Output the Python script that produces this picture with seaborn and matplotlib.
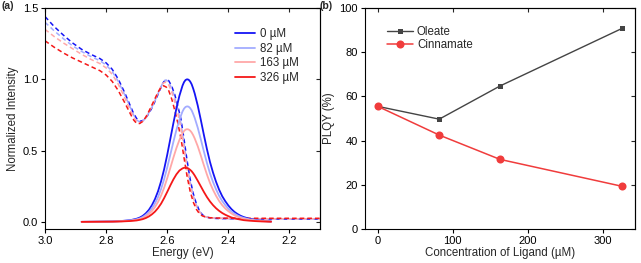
import seaborn as sns
import matplotlib.pyplot as plt
import matplotlib
matplotlib.use('Agg')

# ---- (a) PL spectra (solid lines) ----
pl_energy = [2.88, 2.82, 2.78, 2.75, 2.72, 2.70, 2.69, 2.68, 2.67, 2.66,
             2.65, 2.64, 2.63, 2.62, 2.61, 2.60, 2.59, 2.58, 2.57, 2.56,
             2.55, 2.545, 2.54, 2.535, 2.53, 2.525, 2.52, 2.515, 2.51, 2.50,
             2.49, 2.48, 2.47, 2.46, 2.45, 2.44, 2.43, 2.42, 2.41, 2.40,
             2.39, 2.38, 2.37, 2.36, 2.35, 2.33, 2.31, 2.29, 2.26]
pl_0uM = [0.0, 0.0015, 0.003, 0.006, 0.012, 0.022, 0.03, 0.042, 0.06, 0.084,
          0.117, 0.16, 0.215, 0.285, 0.37, 0.47, 0.58, 0.69, 0.795, 0.885,
          0.955, 0.98, 0.995, 1.0, 0.997, 0.985, 0.965, 0.935, 0.90, 0.815,
          0.715, 0.61, 0.51, 0.42, 0.345, 0.28, 0.225, 0.18, 0.145, 0.115,
          0.09, 0.07, 0.055, 0.043, 0.034, 0.021, 0.013, 0.007, 0.003]
pl_82uM = [0.0, 0.001, 0.0025, 0.005, 0.01, 0.018, 0.024, 0.034, 0.049, 0.068,
           0.095, 0.13, 0.174, 0.231, 0.30, 0.381, 0.47, 0.559, 0.644, 0.717,
           0.774, 0.794, 0.806, 0.81, 0.808, 0.798, 0.782, 0.757, 0.729, 0.66,
           0.579, 0.494, 0.413, 0.34, 0.279, 0.227, 0.182, 0.146, 0.117, 0.093,
           0.073, 0.057, 0.045, 0.035, 0.028, 0.017, 0.011, 0.006, 0.002]
pl_163uM = [0.0, 0.001, 0.002, 0.004, 0.008, 0.014, 0.02, 0.027, 0.039, 0.055,
            0.076, 0.104, 0.14, 0.185, 0.24, 0.306, 0.377, 0.449, 0.517, 0.575,
            0.621, 0.637, 0.647, 0.65, 0.648, 0.64, 0.627, 0.608, 0.585, 0.53,
            0.465, 0.397, 0.332, 0.273, 0.224, 0.182, 0.146, 0.117, 0.094, 0.075,
            0.059, 0.046, 0.036, 0.028, 0.022, 0.014, 0.008, 0.005, 0.002]
pl_326uM = [0.0, 0.001, 0.0015, 0.003, 0.006, 0.01, 0.014, 0.019, 0.027, 0.038,
            0.053, 0.072, 0.097, 0.128, 0.167, 0.21, 0.255, 0.297, 0.333, 0.36,
            0.375, 0.379, 0.38, 0.378, 0.373, 0.365, 0.355, 0.341, 0.325, 0.288,
            0.249, 0.21, 0.174, 0.143, 0.117, 0.095, 0.077, 0.062, 0.05, 0.04,
            0.031, 0.025, 0.02, 0.016, 0.012, 0.008, 0.005, 0.003, 0.001]

# ---- (a) absorption spectra (dashed lines) ----
abs_energy = [3.00, 2.97, 2.94, 2.91, 2.88, 2.85, 2.82, 2.80, 2.78, 2.76,
              2.74, 2.72, 2.71, 2.70, 2.69, 2.68, 2.67, 2.66, 2.65, 2.64,
              2.63, 2.62, 2.612, 2.603, 2.595, 2.585, 2.575, 2.565, 2.555, 2.545,
              2.535, 2.525, 2.515, 2.505, 2.495, 2.485, 2.475, 2.46, 2.44, 2.40,
              2.30, 2.10]
abs_0uM = [1.44, 1.37, 1.31, 1.255, 1.21, 1.175, 1.145, 1.115, 1.07, 1.0,
           0.91, 0.81, 0.76, 0.725, 0.705, 0.71, 0.73, 0.76, 0.80, 0.845,
           0.895, 0.945, 0.98, 1.0, 0.99, 0.95, 0.89, 0.81, 0.72, 0.58,
           0.43, 0.30, 0.20, 0.13, 0.08, 0.05, 0.035, 0.028, 0.024, 0.022,
           0.02, 0.02]
abs_82uM = [1.40, 1.34, 1.285, 1.235, 1.195, 1.16, 1.13, 1.10, 1.055, 0.985,
            0.895, 0.80, 0.75, 0.715, 0.70, 0.705, 0.73, 0.765, 0.805, 0.85,
            0.90, 0.95, 0.985, 0.995, 0.98, 0.935, 0.87, 0.785, 0.69, 0.55,
            0.40, 0.28, 0.185, 0.12, 0.075, 0.048, 0.035, 0.029, 0.025, 0.023,
            0.021, 0.021]
abs_163uM = [1.35, 1.30, 1.255, 1.215, 1.175, 1.14, 1.11, 1.08, 1.035, 0.965,
             0.875, 0.78, 0.735, 0.705, 0.695, 0.705, 0.73, 0.77, 0.81, 0.855,
             0.905, 0.95, 0.975, 0.98, 0.96, 0.91, 0.84, 0.755, 0.655, 0.515,
             0.37, 0.255, 0.17, 0.11, 0.07, 0.047, 0.036, 0.03, 0.026, 0.024,
             0.022, 0.022]
abs_326uM = [1.27, 1.225, 1.185, 1.15, 1.12, 1.09, 1.06, 1.03, 0.985, 0.92,
             0.84, 0.755, 0.715, 0.69, 0.69, 0.705, 0.735, 0.775, 0.82, 0.865,
             0.91, 0.945, 0.955, 0.945, 0.92, 0.86, 0.78, 0.69, 0.585, 0.45,
             0.32, 0.215, 0.14, 0.09, 0.058, 0.042, 0.034, 0.029, 0.027, 0.026,
             0.025, 0.025]

conc_labels = ["0 µM", "82 µM", "163 µM", "326 µM"]
conc_colors = ["#1515f5", "#a3acff", "#ffa8a8", "#f51818"]

# ---- (b) PLQY vs ligand concentration ----
ligand_conc = [0, 82, 163, 326]
plqy_oleate = [55.5, 49.7, 64.7, 90.8]
plqy_cinnamate = [55.5, 42.5, 31.5, 19.3]

sns.set_theme(style="ticks")
plt.rcParams['font.family'] = ['Liberation Sans', 'DejaVu Sans']
plt.rcParams['axes.linewidth'] = 0.8

fig = plt.figure(figsize=(6.41, 2.63), dpi=100)
ax_a = fig.add_axes([0.0702, 0.1293, 0.4290, 0.8403])
ax_b = fig.add_axes([0.5694, 0.1293, 0.4212, 0.8403])

pl_sets = [pl_0uM, pl_82uM, pl_163uM, pl_326uM]
abs_sets = [abs_0uM, abs_82uM, abs_163uM, abs_326uM]

for absorb, col in zip(abs_sets, conc_colors):
    sns.lineplot(x=abs_energy, y=absorb, color=col, lw=1.1, ls=(0, (3.0, 2.0)),
                 sort=False, ax=ax_a, legend=False)
for pl, col, lab in zip(pl_sets, conc_colors, conc_labels):
    sns.lineplot(x=pl_energy, y=pl, color=col, lw=1.3, sort=False, ax=ax_a, label=lab)

ax_a.set_xlim(3.0, 2.1)
ax_a.set_ylim(-0.05, 1.5)
ax_a.set_xticks([3.0, 2.8, 2.6, 2.4, 2.2])
ax_a.set_yticks([0.0, 0.5, 1.0, 1.5])
ax_a.set_xlabel("Energy (eV)", fontsize=8.3, labelpad=1)
ax_a.set_ylabel("Normalized Intensity", fontsize=8.3, labelpad=3)
ax_a.legend(loc="upper left", bbox_to_anchor=(0.674, 0.93), frameon=False, fontsize=8.3,
            handlelength=1.75, handletextpad=0.45, labelspacing=0.22, borderaxespad=0)

# (b)
sns.lineplot(x=ligand_conc, y=plqy_oleate, color="#444444", marker="s", markersize=3.6,
             markeredgewidth=0, lw=1.0, ax=ax_b, label="Oleate")
sns.lineplot(x=ligand_conc, y=plqy_cinnamate, color="#f03c3c", marker="o", markersize=5.8,
             markeredgewidth=0, lw=1.1, ax=ax_b, label="Cinnamate")
ax_b.set_xlim(-17, 343)
ax_b.set_ylim(0, 100)
ax_b.set_xticks([0, 100, 200, 300])
ax_b.set_yticks([0, 20, 40, 60, 80, 100])
ax_b.set_xlabel("Concentration of Ligand (µM)", fontsize=8.3, labelpad=1)
ax_b.set_ylabel("PLQY (%)", fontsize=8.3, labelpad=3)
ax_b.legend(loc="upper left", bbox_to_anchor=(0.064, 0.94), frameon=False, fontsize=8.3,
            handlelength=2.26, handletextpad=0.35, labelspacing=0.1, borderaxespad=0)

for ax in (ax_a, ax_b):
    for s in ax.spines.values():
        s.set_visible(True)
        s.set_color("black")
        s.set_linewidth(0.8)
    ax.tick_params(direction="out", length=3, width=0.8, labelsize=8, pad=2, colors="black")
    top = ax.secondary_xaxis("top")
    top.set_xticks(ax.get_xticks())
    top.tick_params(direction="in", length=3, width=0.8, labeltop=False)
    right = ax.secondary_yaxis("right")
    right.set_yticks(ax.get_yticks())
    right.tick_params(direction="in", length=3, width=0.8, labelright=False)

fig.text(0.002, 0.995, "(a)", fontsize=7.5, fontweight="bold", va="top", ha="left")
fig.text(0.499, 0.995, "(b)", fontsize=7.5, fontweight="bold", va="top", ha="left")

plt.savefig("out.png", dpi=100)
